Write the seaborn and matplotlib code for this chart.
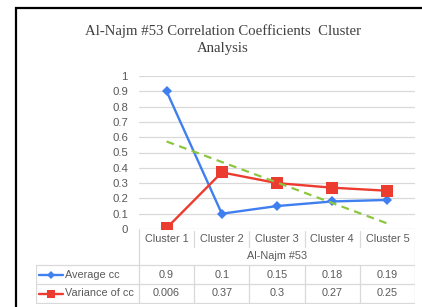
import numpy as np
import pandas as pd
import matplotlib
matplotlib.use("Agg")
import matplotlib.pyplot as plt
import seaborn as sns
from matplotlib.patches import Rectangle

# ---------------- DATA ----------------
clusters = ["Cluster 1", "Cluster 2", "Cluster 3", "Cluster 4", "Cluster 5"]
avg_cc = [0.9, 0.1, 0.15, 0.18, 0.19]
var_cc = [0.006, 0.37, 0.3, 0.27, 0.25]
avg_text = ["0.9", "0.1", "0.15", "0.18", "0.19"]
var_text = ["0.006", "0.37", "0.3", "0.27", "0.25"]
series_names = ["Average cc", "Variance of cc"]
group_label = "Al-Najm #53"
title = "Al-Najm #53 Correlation Coefficients  Cluster\nAnalysis"
y_ticks = [0, 0.1, 0.2, 0.3, 0.4, 0.5, 0.6, 0.7, 0.8, 0.9, 1]

BLUE = "#3F7FEF"
RED = "#EC3B2F"
GREEN = "#8CC63F"
GRID = "#D9D9D9"
TXT = "#595959"

sns.set_theme(style="white")
plt.rcParams["font.family"] = ["Liberation Sans", "DejaVu Sans"]

W, H = 422, 307
fig = plt.figure(figsize=(W / 100, H / 100), dpi=100)


def box(l, t, w, h):
    return [l / W, 1 - (t + h) / H, w / W, h / H]


# ---------------- chart area ----------------
ax = fig.add_axes(box(139, 76, 276, 153))
xs = np.arange(len(clusters))
df = pd.DataFrame({"x": xs, "avg": avg_cc, "var": var_cc})

# linear trend of the average series (Excel style trendline)
slope, icpt = np.polyfit(xs + 1, avg_cc, 1)
df["trend"] = icpt + slope * (xs + 1)

sns.lineplot(data=df, x="x", y="trend", ax=ax, color=GREEN, lw=1.6,
             linestyle=(0, (3.5, 2.5)), zorder=4)
sns.lineplot(data=df, x="x", y="avg", ax=ax, color=BLUE, lw=1.7,
             marker="D", markersize=5, markeredgewidth=0, zorder=3)
sns.lineplot(data=df, x="x", y="var", ax=ax, color=RED, lw=1.7,
             marker="s", markersize=8, markeredgewidth=0, zorder=3)

ax.set_xlim(-0.5, len(clusters) - 0.5)
ax.set_ylim(0, 1)
ax.set_yticks(y_ticks)
ax.set_yticklabels([f"{t:g}" for t in y_ticks], fontsize=8.2, color=TXT)
ax.set_xticks([])
ax.set_xlabel("")
ax.set_ylabel("")
ax.tick_params(axis="y", length=0, pad=8)
for t in y_ticks:
    ax.axhline(t, color=GRID, lw=0.9, zorder=1)
for s in ax.spines.values():
    s.set_visible(False)
ax.patch.set_alpha(0)

# ---------------- data table ----------------
fs = 7.8
col_px = 276 / len(clusters)
left_px = 139 - 36
tb = fig.add_axes(box(36, 229, 379, 75))
x_left = -0.5 - left_px / col_px
x_right = len(clusters) - 0.5
tb.set_xlim(x_left, x_right)
tb.set_ylim(304, 229)
tb.axis("off")
tb.patch.set_alpha(0)

lk = dict(color=GRID, lw=0.9)
tb.plot([-0.5, -0.5], [229, 303], **lk)
tb.plot([x_right, x_right], [229, 303], **lk)
tb.plot([x_left, x_left], [265, 303], **lk)
for yy in [265, 284, 303]:
    tb.plot([x_left, x_right], [yy, yy], **lk)
for i in range(1, len(clusters)):
    tb.plot([i - 0.5, i - 0.5], [231, 247], **lk)
    tb.plot([i - 0.5, i - 0.5], [265, 303], **lk)

for i, c in enumerate(clusters):
    tb.text(i, 238.5, c, ha="center", va="center", fontsize=fs, color=TXT)
    tb.text(i, 274.5, avg_text[i], ha="center", va="center", fontsize=fs, color=TXT)
    tb.text(i, 293.5, var_text[i], ha="center", va="center", fontsize=fs, color=TXT)
tb.text((len(clusters) - 1) / 2, 256, group_label, ha="center", va="center",
        fontsize=fs, color=TXT)

px = 1 / col_px
rows = [(274.5, BLUE, "D", 4, series_names[0]), (293.5, RED, "s", 6, series_names[1])]
for yy, col, mk, ms, name in rows:
    tb.plot([x_left + 3 * px, x_left + 27 * px], [yy, yy], color=col, lw=1.7)
    tb.plot([x_left + 15 * px], [yy], color=col, marker=mk, markersize=ms,
            markeredgewidth=0)
    tb.text(x_left + 29 * px, yy, name, ha="left", va="center", fontsize=fs,
            color=TXT)

# ---------------- title and frame ----------------
fig.text(223 / W, 1 - 39.5 / H, title, ha="center", va="center",
         fontsize=10.6, color="#404040", family=["Liberation Serif", "DejaVu Serif"],
         linespacing=1.35)
fig.add_artist(Rectangle((16 / W, -0.05), 1.0, 1 - 8 / H + 0.05,
                         transform=fig.transFigure, fill=False,
                         edgecolor="black", lw=1.6))

fig.savefig("out.png", dpi=100)
